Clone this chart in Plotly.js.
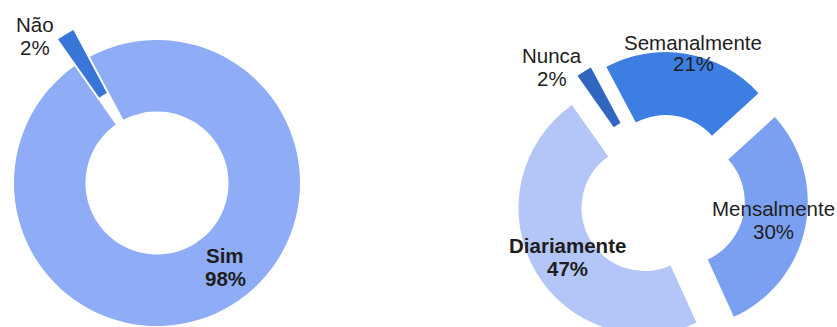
<!DOCTYPE html>
<html>
<head>
<meta charset="utf-8">
<script src="https://cdn.plot.ly/plotly-3.0.1.min.js"></script>
<style>
  html, body { margin: 0; padding: 0; background: #ffffff; overflow: hidden; width: 837px; height: 327px; }
  #chart { position: absolute; left: -40px; top: 0; width: 917px; height: 380px; }
</style>
</head>
<body>
<div id="chart"></div>
<script>
// ---- data ----
const leftLabels = ["Sim", "Não"];
const leftValues = [98, 2];
const rightLabels = ["Semanalmente", "Mensalmente", "Diariamente", "Nunca"];
const rightValues = [21, 30, 47, 2];

// ---- styling / layout ----
const W = 917, H = 380, OFFX = 40;
const leftColors = ["#8eadf6", "#3a76d8"];
const rightColors = ["#3d7ee3", "#7ba0f2", "#b3c6f7", "#3166c1"];
const leftPull = [0, 0.22];
const rightPull = [0.16, 0.16, 0.16, 0.18];
const leftBold = [true, false];
const rightBold = [false, false, true, false];
// label line centres in page pixels [x, yName, yPct]
const leftLabelPos = [[225, 255, 278], [35, 25, 48]];
const rightLabelPos = [[693, 42, 64], [773, 208, 231], [567, 245, 268], [552, 55, 79]];

const px = x => (x + OFFX) / W;
const py = y => 1 - y / H;

const traces = [
  {
    type: "pie", labels: leftLabels, values: leftValues, sort: false,
    direction: "clockwise", rotation: -28, hole: 0.5, pull: leftPull,
    marker: { colors: leftColors, line: { width: 0 } },
    textinfo: "none", hoverinfo: "label+percent", showlegend: false,
    domain: { x: [22.5 / W, 371.5 / W], y: [1 - 357.5 / H, 1 - 8.5 / H] }
  },
  {
    type: "pie", labels: rightLabels, values: rightValues, sort: false,
    direction: "clockwise", rotation: -28, hole: 0.5, pull: rightPull,
    marker: { colors: rightColors, line: { width: 0 } },
    textinfo: "none", hoverinfo: "label+percent", showlegend: false,
    domain: { x: [553.3 / W, 850.7 / W], y: [1 - 346.7 / H, 1 - 49.3 / H] }
  }
];

function makeAnn(labels, values, pos, bold) {
  const out = [];
  const total = values.reduce((a, b) => a + b, 0);
  labels.forEach((lab, i) => {
    const pct = Math.round(values[i] / total * 100) + "%";
    const f = { family: "Liberation Sans, Arial, sans-serif", size: 20.5, color: "#1e1e1e" };
    const wrap = t => bold[i] ? "<b>" + t + "</b>" : t;
    out.push({ xref: "paper", yref: "paper", x: px(pos[i][0]), y: py(pos[i][1]), text: wrap(lab),
      showarrow: false, xanchor: "center", yanchor: "middle", font: f });
    out.push({ xref: "paper", yref: "paper", x: px(pos[i][0]), y: py(pos[i][2]), text: wrap(pct),
      showarrow: false, xanchor: "center", yanchor: "middle", font: f });
  });
  return out;
}

const layout = {
  width: W, height: H,
  margin: { l: 0, r: 0, t: 0, b: 0, pad: 0 },
  paper_bgcolor: "#ffffff", plot_bgcolor: "#ffffff",
  showlegend: false,
  annotations: makeAnn(leftLabels, leftValues, leftLabelPos, leftBold)
    .concat(makeAnn(rightLabels, rightValues, rightLabelPos, rightBold))
};

Plotly.newPlot("chart", traces, layout, { displayModeBar: false, staticPlot: true });
</script>
</body>
</html>
